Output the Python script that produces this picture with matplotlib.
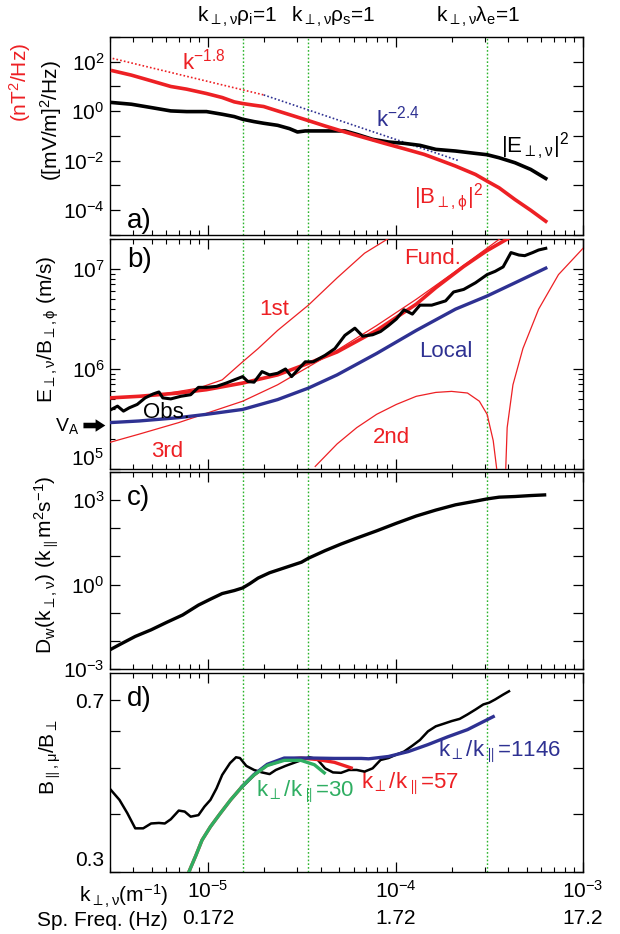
import numpy as np
import matplotlib
matplotlib.use("Agg")
import matplotlib.pyplot as plt
import matplotlib.transforms as mtransforms
from matplotlib.ticker import FixedLocator, FuncFormatter, LogLocator, NullFormatter, NullLocator

plt.rcParams['font.family'] = ['Liberation Sans', 'DejaVu Sans']
plt.rcParams['mathtext.fontset'] = 'custom'
plt.rcParams['mathtext.rm'] = 'Liberation Sans'
plt.rcParams['mathtext.it'] = 'Liberation Sans'
plt.rcParams['mathtext.bf'] = 'Liberation Sans:bold'
plt.rcParams['mathtext.fallback'] = 'stixsans'

RED = '#ed2024'
BLUE = '#2e3192'
GREEN = '#2fae62'
VGREEN = '#2cb52c'

# ---- vertical reference scales k_perp rho_i, k_perp rho_s, k_perp lambda_e
k_marks = [1.53e-5, 3.43e-5, 3.08e-4]
k_mark_labels = [r'k$_{\perp,\nu}\rho_\mathrm{i}$=1', r'k$_{\perp,\nu}\rho_\mathrm{s}$=1',
                 r'k$_{\perp,\nu}\lambda_\mathrm{e}$=1']

# ---- panel a: spectra
k_b2 = [3.10e-6, 3.90e-6, 4.97e-6, 6.33e-6, 7.69e-6, 9.81e-6, 1.19e-5, 1.38e-5, 1.53e-5, 1.76e-5,
        1.98e-5, 2.35e-5, 2.86e-5, 3.47e-5, 4.21e-5, 5.37e-5, 6.84e-5, 8.73e-5, 1.11e-4, 1.42e-4,
        1.72e-4, 2.09e-4, 2.67e-4, 3.08e-4, 3.57e-4, 4.34e-4, 5.26e-4, 6.33e-4]
b2 = [43.2, 28.8, 17.0, 10.0, 7.80, 5.20, 3.58, 2.39, 2.05, 1.75,
      1.55, 1.03, 0.647, 0.406, 0.254, 0.145, 0.0855, 0.0505, 0.0306, 0.0181,
      0.0106, 0.00608, 0.00279, 0.00150, 8.04e-4, 2.70e-4, 1.0e-4, 3.58e-5]
k_e2 = [3.10e-6, 3.90e-6, 4.97e-6, 6.33e-6, 7.69e-6, 9.81e-6, 1.19e-5, 1.38e-5, 1.53e-5, 1.76e-5,
        1.98e-5, 2.35e-5, 2.72e-5, 3.00e-5, 3.30e-5, 3.82e-5, 4.64e-5, 5.37e-5, 6.21e-5, 7.55e-5,
        9.17e-5, 1.11e-4, 1.35e-4, 1.64e-4, 2.09e-4, 2.67e-4, 3.08e-4, 3.57e-4, 4.34e-4, 5.26e-4, 6.33e-4]
e2 = [2.24, 1.92, 1.41, 1.03, 0.968, 0.968, 0.755, 0.608, 0.474, 0.381,
      0.327, 0.270, 0.198, 0.145, 0.160, 0.160, 0.160, 0.160, 0.117, 0.0733,
      0.0571, 0.0505, 0.0419, 0.0288, 0.0247, 0.0198, 0.0175, 0.0132, 0.0083, 0.00446, 0.00192]
k_fit18 = [3.10e-6, 1.98e-5]
fit18 = [136.0, 4.57]
k_fit24 = [1.98e-5, 2.18e-4]
fit24 = [4.57, 0.010]

# ---- panel b: E/B ratio
k_obs = [3.05e-6, 3.29e-6, 3.54e-6, 3.80e-6, 4.19e-6, 4.62e-6, 5.09e-6, 5.47e-6, 5.74e-6, 6.33e-6,
         7.15e-6, 8.08e-6, 8.89e-6, 9.81e-6, 1.11e-5, 1.25e-5, 1.38e-5, 1.53e-5, 1.63e-5, 1.76e-5,
         1.94e-5, 2.13e-5, 2.35e-5, 2.59e-5, 2.79e-5, 3.07e-5, 3.30e-5, 3.64e-5, 4.21e-5, 4.75e-5,
         5.37e-5, 6.07e-5, 6.68e-5, 7.55e-5, 8.32e-5, 9.17e-5, 1.01e-4, 1.11e-4, 1.23e-4, 1.35e-4,
         1.56e-4, 1.85e-4, 2.04e-4, 2.31e-4, 2.67e-4, 3.08e-4, 3.40e-4, 3.75e-4, 4.13e-4, 4.55e-4,
         4.89e-4, 5.39e-4, 5.80e-4, 6.33e-4]
obs = [3.94e5, 4.25e5, 3.79e5, 4.09e5, 4.42e5, 5.14e5, 5.62e5, 5.89e5, 5.14e5, 5.02e5,
       5.33e5, 5.53e5, 6.55e5, 6.55e5, 6.70e5, 7.23e5, 7.78e5, 8.39e5, 7.50e5, 7.38e5,
       9.42e5, 8.73e5, 9.06e5, 1.00e6, 8.39e5, 1.02e6, 1.18e6, 1.18e6, 1.37e6, 1.60e6,
       2.17e6, 2.56e6, 2.13e6, 2.20e6, 2.37e6, 2.72e6, 3.16e6, 3.91e6, 3.54e6, 4.35e6,
       4.35e6, 4.80e6, 5.89e6, 6.25e6, 7.28e6, 8.79e6, 9.48e6, 1.05e7, 1.46e7, 1.38e7,
       1.36e7, 1.46e7, 1.55e7, 1.61e7]
k_local = [3.01e-6, 4.29e-6, 6.98e-6, 9.81e-6, 1.53e-5, 2.35e-5, 3.43e-5, 4.88e-5, 7.93e-5, 1.29e-4,
           2.09e-4, 3.08e-4, 4.34e-4, 6.33e-4]
local = [2.91e5, 3.02e5, 3.26e5, 3.52e5, 3.94e5, 4.94e5, 6.44e5, 8.73e5, 1.43e6, 2.43e6,
         3.97e6, 5.37e6, 7.28e6, 1.02e7]
k_fund = [3.01e-6, 4.29e-6, 6.98e-6, 9.81e-6, 1.53e-5, 2.35e-5, 3.43e-5, 4.88e-5, 7.93e-5, 1.29e-4,
          1.64e-4, 2.31e-4, 3.08e-4, 4.13e-4]
fund = [5.14e5, 5.33e5, 5.75e5, 6.21e5, 7.23e5, 8.73e5, 1.14e6, 1.48e6, 2.43e6, 4.45e6,
        6.50e6, 1.06e7, 1.53e7, 2.10e7]
k_1st = [3.01e-6, 5.47e-6, 8.89e-6, 1.19e-5, 1.53e-5, 1.85e-5, 2.35e-5, 3.43e-5, 4.88e-5, 6.84e-5, 1.01e-4]
mode1 = [5.06e5, 5.53e5, 6.44e5, 7.78e5, 1.18e6, 1.60e6, 2.43e6, 4.35e6, 8.15e6, 1.44e7, 2.26e7]
k_2nd = [3.73e-5, 4.88e-5, 6.21e-5, 7.93e-5, 1.01e-4, 1.29e-4, 1.64e-4, 1.99e-4, 2.42e-4, 2.80e-4,
         3.08e-4, 3.32e-4, 3.49e-4, 3.55e-4, 3.71e-4, 3.94e-4, 4.23e-4, 4.78e-4, 5.80e-4, 7.40e-4, 1.0e-3]
mode2 = [1.06e5, 1.78e5, 2.59e5, 3.52e5, 4.42e5, 5.33e5, 5.83e5, 5.97e5, 5.75e5, 4.76e5,
         3.52e5, 1.92e5, 9.0e4, 1.0e4, 1.0e4, 2.59e5, 6.95e5, 1.60e6, 3.97e6, 8.79e6, 1.61e7]
k_3rd = [3.01e-6, 4.29e-6, 6.98e-6, 1.13e-5, 1.53e-5, 2.35e-5, 3.43e-5, 4.88e-5, 7.93e-5, 1.29e-4,
         2.09e-4, 2.67e-4, 3.57e-4, 3.84e-4]
mode3 = [1.85e5, 2.23e5, 2.91e5, 3.94e5, 4.76e5, 6.95e5, 1.05e6, 1.54e6, 2.72e6, 4.98e6,
         9.48e6, 1.33e7, 1.98e7, 2.18e7]
v_alfven = 2.72e5

# ---- panel c: diffusion coefficient
k_dw = [3.01e-6, 3.37e-6, 4.09e-6, 4.97e-6, 6.03e-6, 7.32e-6, 8.89e-6, 1.03e-5, 1.19e-5, 1.38e-5,
        1.53e-5, 1.67e-5, 1.85e-5, 2.13e-5, 2.59e-5, 3.15e-5, 3.43e-5, 4.21e-5, 5.12e-5, 6.21e-5,
        7.93e-5, 1.01e-4, 1.29e-4, 1.64e-4, 2.09e-4, 2.67e-4, 3.08e-4, 3.57e-4, 4.34e-4, 5.26e-4, 6.24e-4]
dw = [4.89e-3, 7.33e-3, 1.44e-2, 2.47e-2, 4.59e-2, 8.32e-2, 0.187, 0.304, 0.481, 0.614,
      0.762, 1.08, 1.71, 2.64, 4.06, 6.25, 8.65, 16.1, 27.6, 44.9,
      81.3, 151, 274, 445, 685, 923, 1110, 1280, 1350, 1460, 1540]

# ---- panel d: compressibility
k_comp = [3.01e-6, 3.37e-6, 3.71e-6, 4.09e-6, 4.51e-6, 4.97e-6, 5.47e-6, 5.88e-6, 6.33e-6, 6.98e-6,
          7.51e-6, 8.08e-6, 8.89e-6, 9.57e-6, 1.03e-5, 1.11e-5, 1.19e-5, 1.31e-5, 1.41e-5, 1.48e-5,
          1.60e-5, 1.76e-5, 1.94e-5, 2.13e-5, 2.30e-5, 2.59e-5, 3.00e-5, 3.47e-5, 3.82e-5, 4.21e-5,
          4.64e-5, 5.12e-5, 5.64e-5, 6.21e-5, 6.84e-5, 7.55e-5, 8.32e-5, 9.17e-5, 1.01e-4, 1.11e-4,
          1.23e-4, 1.35e-4, 1.49e-4, 1.64e-4, 1.81e-4, 1.99e-4, 2.20e-4, 2.42e-4, 2.67e-4, 2.94e-4,
          3.16e-4, 3.40e-4, 3.75e-4, 4.03e-4]
comp = [0.451, 0.428, 0.401, 0.372, 0.372, 0.381, 0.382, 0.381, 0.389, 0.406,
        0.404, 0.394, 0.397, 0.414, 0.428, 0.453, 0.484, 0.513, 0.528, 0.526,
        0.506, 0.496, 0.490, 0.486, 0.496, 0.506, 0.517, 0.528, 0.523, 0.500,
        0.490, 0.489, 0.496, 0.496, 0.492, 0.500, 0.521, 0.526, 0.535, 0.543,
        0.559, 0.575, 0.600, 0.615, 0.623, 0.631, 0.638, 0.652, 0.668, 0.685,
        0.691, 0.702, 0.719, 0.731]
k_r30 = [7.9e-6, 8.6e-6, 9.29e-6, 1.03e-5, 1.16e-5, 1.32e-5, 1.52e-5, 1.76e-5, 2.07e-5, 2.55e-5,
         3.13e-5, 3.69e-5, 4.17e-5]
r30 = [0.300, 0.325, 0.351, 0.375, 0.400, 0.428, 0.457, 0.484, 0.507, 0.520,
       0.520, 0.509, 0.489]
k_r57 = [7.9e-6, 8.6e-6, 9.29e-6, 1.03e-5, 1.16e-5, 1.32e-5, 1.52e-5, 1.76e-5, 2.07e-5, 2.55e-5,
         3.13e-5, 3.85e-5, 4.72e-5, 5.80e-5]
r57 = [0.300, 0.325, 0.351, 0.375, 0.400, 0.428, 0.457, 0.484, 0.508, 0.522,
       0.526, 0.522, 0.515, 0.501]
k_r1146 = [1.52e-5, 1.76e-5, 2.07e-5, 2.55e-5, 3.53e-5, 4.72e-5, 6.56e-5, 7.19e-5, 9.17e-5, 1.17e-4,
           1.49e-4, 1.90e-4, 2.42e-4, 3.32e-4]
r1146 = [0.457, 0.485, 0.510, 0.526, 0.526, 0.525, 0.525, 0.524, 0.530, 0.543,
         0.562, 0.584, 0.605, 0.645]

k_ticks = [1e-5, 1e-4, 1e-3]
freq_labels = ['0.172', '1.72', '17.2']


def pow_fmt(step, skip=()):
    def f(v, pos):
        e = int(round(np.log10(v)))
        if e in skip:
            return ''
        return r'$10^{%d}$' % e if e % step == 0 else ''
    return FuncFormatter(f)


def style_axis(ax):
    ax.set_xscale('log')
    ax.set_xlim(3.0e-6, 1.0e-3)
    ax.xaxis.set_major_locator(FixedLocator(k_ticks))
    ax.xaxis.set_minor_locator(LogLocator(base=10, subs=np.arange(2, 10)))
    ax.xaxis.set_major_formatter(NullFormatter())
    ax.xaxis.set_minor_formatter(NullFormatter())
    ax.tick_params(which='both', direction='in', top=True, right=True, labelsize=15, pad=4)
    ax.tick_params(which='major', length=7, width=0.9)
    ax.tick_params(which='minor', length=3.5, width=0.8)
    for s in ax.spines.values():
        s.set_linewidth(1.0)
    for k in k_marks:
        ax.axvline(k, color=VGREEN, lw=1.0, ls=(0, (1.2, 1.5)), zorder=1)


fig = plt.figure(figsize=(6.2, 9.34), dpi=100)
L, W = 110 / 620, 473 / 620
ax_a = fig.add_axes([L, 0.7484, W, 0.2120])
ax_b = fig.add_axes([L, 0.4979, W, 0.2463])
ax_c = fig.add_axes([L, 0.2837, W, 0.2109])
ax_d = fig.add_axes([L, 0.0664, W, 0.2131])
for ax in (ax_a, ax_b, ax_c, ax_d):
    style_axis(ax)

# panel a
ax_a.set_yscale('log')
ax_a.set_ylim(1e-5, 1e3)
ax_a.yaxis.set_major_locator(FixedLocator([10.0 ** e for e in range(-5, 4)]))
ax_a.yaxis.set_minor_locator(NullLocator())
ax_a.yaxis.set_major_formatter(pow_fmt(2))
ax_a.plot(k_fit18, fit18, color=RED, lw=1.2, ls=(0, (1, 1.3)), zorder=3)
ax_a.plot(k_fit24, fit24, color=BLUE, lw=1.2, ls=(0, (1, 1.3)), zorder=3)
ax_a.plot(k_e2, e2, color='black', lw=2.6, zorder=4)
ax_a.plot(k_b2, b2, color=RED, lw=2.6, zorder=5)
ax_a.text(0.153, 0.874, r'k$^{-1.8}$', color=RED, fontsize=16, transform=ax_a.transAxes, va='center')
ax_a.text(0.563, 0.586, r'k$^{-2.4}$', color=BLUE, fontsize=16, transform=ax_a.transAxes, va='center')
ax_a.text(0.827, 0.447, r'|E$_{\perp,\nu}$|$^2$', color='black', fontsize=16,
          transform=ax_a.transAxes, va='center')
ax_a.text(0.643, 0.192, r'|B$_{\perp,\phi}$|$^2$', color=RED, fontsize=16,
          transform=ax_a.transAxes, va='center')
ax_a.text(0.036, 0.069, 'a)', fontsize=20, transform=ax_a.transAxes, va='center')
for xf, lab in zip([0.270, 0.471, 0.778], k_mark_labels):
    ax_a.text(xf, 1.10, lab, fontsize=15, ha='center', va='center', transform=ax_a.transAxes)
fig.text(20 / 620, 1 - 82 / 934, r'(nT$^2$/Hz)', color=RED, fontsize=15, rotation=90,
         ha='center', va='center')
fig.text(51 / 620, 1 - 121 / 934, r'([mV/m]$^2$/Hz)', color='black', fontsize=15, rotation=90,
         ha='center', va='center')

# panel b
ax_b.set_yscale('log')
ax_b.set_ylim(1e5, 2e7)
ax_b.yaxis.set_major_locator(FixedLocator([1e5, 1e6, 1e7]))
ax_b.yaxis.set_minor_locator(LogLocator(base=10, subs=np.arange(2, 10)))
ax_b.yaxis.set_major_formatter(pow_fmt(1, skip=(5,)))
ax_b.yaxis.set_minor_formatter(NullFormatter())
ax_b.text(-0.012, 0.045, r'$10^{5}$', fontsize=15, ha='right', va='center', transform=ax_b.transAxes)
ax_b.plot(k_1st, mode1, color=RED, lw=0.9, zorder=3)
ax_b.plot(k_2nd, mode2, color=RED, lw=0.9, zorder=3)
ax_b.plot(k_3rd, mode3, color=RED, lw=0.9, zorder=3)
ax_b.plot(k_local, local, color=BLUE, lw=2.4, zorder=4)
ax_b.plot(k_fund, fund, color=RED, lw=2.6, zorder=5)
ax_b.plot(k_obs, obs, color='black', lw=2.2, zorder=6)
ax_b.text(0.036, 0.91, 'b)', fontsize=20, transform=ax_b.transAxes, va='center')
ax_b.text(0.622, 0.915, 'Fund.', color=RED, fontsize=16, transform=ax_b.transAxes, va='center',
          zorder=8)
ax_b.text(0.316, 0.693, '1st', color=RED, fontsize=16, transform=ax_b.transAxes, va='center')
ax_b.text(0.654, 0.512, 'Local', color=BLUE, fontsize=16, transform=ax_b.transAxes, va='center')
ax_b.text(0.069, 0.245, 'Obs.', color='black', fontsize=16, transform=ax_b.transAxes, va='center',
          zorder=8)
ax_b.text(0.086, 0.077, '3rd', color=RED, fontsize=16, transform=ax_b.transAxes, va='center')
ax_b.text(0.555, 0.135, '2nd', color=RED, fontsize=16, transform=ax_b.transAxes, va='center')
trans_b = mtransforms.blended_transform_factory(ax_b.transAxes, ax_b.transData)
ax_b.annotate('', xy=(-0.004, v_alfven), xytext=(-0.062, v_alfven), xycoords=trans_b,
              textcoords=trans_b, annotation_clip=False,
              arrowprops=dict(arrowstyle='simple,head_width=0.9,head_length=0.7,tail_width=0.4',
                              color='black', lw=0))
ax_b.text(-0.091, v_alfven, r'V$_\mathrm{A}$', fontsize=14, ha='center', va='center',
          transform=trans_b)
fig.text(48 / 620, 1 - 329 / 934, r'E$_{\perp,\nu}$/B$_{\perp,\phi}$ (m/s)', fontsize=15,
         rotation=90, ha='center', va='center')

# panel c
ax_c.set_yscale('log')
ax_c.set_ylim(1e-3, 1e4)
ax_c.yaxis.set_major_locator(FixedLocator([10.0 ** e for e in range(-3, 5)]))
ax_c.yaxis.set_minor_locator(NullLocator())
ax_c.yaxis.set_major_formatter(pow_fmt(3))
ax_c.plot(k_dw, dw, color='black', lw=2.4, zorder=4)
ax_c.text(0.036, 0.87, 'c)', fontsize=20, transform=ax_c.transAxes, va='center')
fig.text(47 / 620, 1 - 565 / 934, r'D$_\mathrm{w}$(k$_{\perp,\nu}$) (k$_\parallel$m$^2$s$^{-1}$)',
         fontsize=15, rotation=90, ha='center', va='center')

# panel d
ax_d.set_yscale('log')
ax_d.set_ylim(0.3, 0.8)
ax_d.yaxis.set_major_locator(FixedLocator([0.3, 0.4, 0.5, 0.6, 0.7]))
ax_d.yaxis.set_minor_locator(NullLocator())
ax_d.yaxis.set_major_formatter(FuncFormatter(lambda v, p: '0.7' if abs(v - 0.7) < 1e-6 else ''))
ax_d.text(-0.012, 0.06, '0.3', fontsize=15, ha='right', va='center', transform=ax_d.transAxes)
ax_d.xaxis.set_major_formatter(FuncFormatter(lambda v, p: r'$10^{%d}$' % int(round(np.log10(v)))))
ax_d.tick_params(axis='x', which='major', pad=6)
ax_d.plot(k_comp, comp, color='black', lw=1.8, zorder=4)
ax_d.plot(k_r57, r57, color=RED, lw=2.4, zorder=5)
ax_d.plot(k_r1146, r1146, color=BLUE, lw=2.4, zorder=6)
ax_d.plot(k_r30, r30, color=GREEN, lw=2.4, zorder=7)
ax_d.text(0.036, 0.87, 'd)', fontsize=20, transform=ax_d.transAxes, va='center')
ax_d.text(0.308, 0.403, r'k$_\perp$/k$_\parallel$=30', color=GREEN, fontsize=16,
          transform=ax_d.transAxes, va='center')
ax_d.text(0.530, 0.442, r'k$_\perp$/k$_\parallel$=57', color=RED, fontsize=16,
          transform=ax_d.transAxes, va='center')
ax_d.text(0.693, 0.605, r'k$_\perp$/k$_\parallel$=1146', color=BLUE, fontsize=16,
          transform=ax_d.transAxes, va='center')
fig.text(50 / 620, 1 - 757 / 934, r'B$_{\parallel,\mu}$/B$_\perp$', fontsize=15, rotation=90,
         ha='center', va='center')

trans_f = mtransforms.blended_transform_factory(ax_d.transData, fig.transFigure)
for k, lab in zip(k_ticks, freq_labels):
    ax_d.text(k, 1 - 919 / 934, lab, fontsize=15, ha='center', va='center', transform=trans_f)
fig.text(168 / 620, 1 - 896 / 934, r'k$_{\perp,\nu}$(m$^{-1}$)', fontsize=15, ha='right', va='center')
fig.text(168 / 620, 1 - 920 / 934, 'Sp. Freq. (Hz)', fontsize=15, ha='right', va='center')

fig.savefig('out.png', dpi=100)
